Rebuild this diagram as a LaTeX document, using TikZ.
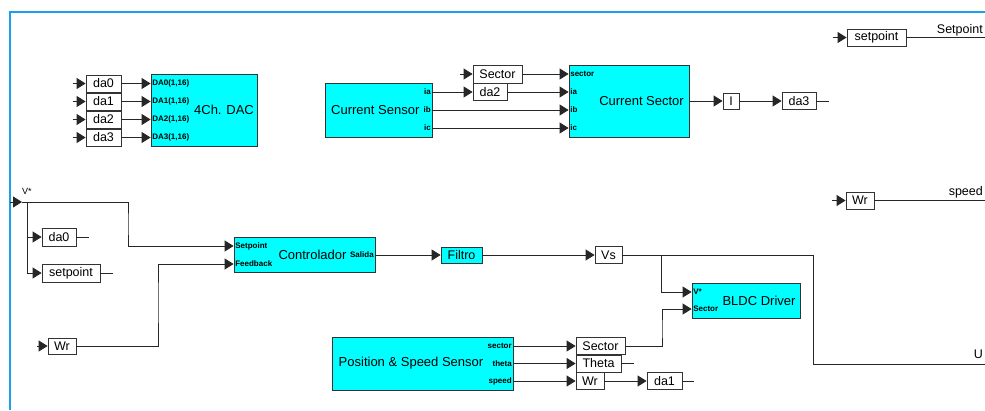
\documentclass[tikz,border=0pt]{standalone}
\usepackage{fontspec}
\setmainfont{Liberation Sans}
\usetikzlibrary{positioning, arrows.meta, calc}
\definecolor{frameblue}{RGB}{25,160,230}
\definecolor{blockcyan}{RGB}{0,255,255}

\begin{document}
\begin{tikzpicture}[x=1pt, y=-1pt,
	wire/.style={draw=black!85, line width=0.9pt},
	arr/.style={-{Triangle[length=9pt, width=11pt]}},
	tagbox/.style={draw=black!80, fill=white, line width=0.8pt, inner sep=0pt, minimum height=17pt, font=\fontsize{12.5}{13}\selectfont},
	block/.style={draw=black!80, fill=blockcyan, line width=0.8pt, inner sep=0pt},
	blocklab/.style={inner sep=0pt, font=\fontsize{13}{14}\selectfont},
	port/.style={inner sep=1.5pt, font=\fontsize{8}{8}\selectfont\bfseries},
	outlab/.style={inner sep=0pt, anchor=base east, font=\fontsize{12.5}{13}\selectfont}]
	\useasboundingbox (0,0) rectangle (985,410);
	% sheet frame
	\draw[frameblue, line width=2pt] (10,410) -- (10,12) -- (985,12);

	% 4 channel DAC
	\node[block, minimum width=106pt, minimum height=72pt] (dac) at (204,110) {};
	\node[blocklab] (daclab) at (224,110) {4Ch. DAC};
	\foreach \i/\y in {0/83.5, 1/101.5, 2/119.5, 3/137.5}{
		\node[tagbox, minimum width=35pt] (dac\i) at (103.5,\y) {da\i};
		\node[port, anchor=west] (dacp\i) at (dac.west |- dac\i) {DA\i(1,16)};
		\draw[wire, arr] ([xshift=-13pt]dac\i.west) -- (dac\i.west);
		\draw[wire, arr] (dac\i.east) -- (dac.west |- dac\i);
	}

	% current sensing
	\node[block, minimum width=107pt, minimum height=54pt] (csens) at (378.5,110) {};
	\node[blocklab, anchor=west] (cslab) at (331,110) {Current Sensor};
	\node[block, minimum width=120pt, minimum height=72pt] (csec) at (629,101) {};
	\node[blocklab, anchor=east] (csclab) at (684,101) {Current Sector};
	\foreach \lab/\y in {ia/92, ib/110, ic/128}{
		\node[port, anchor=east] (csp\lab) at (csens.east |- 0,\y) {\lab};
	}
	\foreach \lab/\y in {sector/74, ia/92, ib/110, ic/128}{
		\node[port, anchor=west] (ccp\lab) at (csec.west |- 0,\y) {\lab};
	}
	\node[tagbox, minimum width=49pt, minimum height=18pt] (secA) at (497.5,74) {Sector};
	\node[tagbox, minimum width=34pt] (da2A) at (490,92) {da2};
	\draw[wire, arr] ([xshift=-13pt]secA.west) -- (secA.west);
	\draw[wire, arr] (secA.east) -- (csec.west |- secA);
	\draw[wire, arr] (csens.east |- da2A) -- (da2A.west);
	\draw[wire, arr] (da2A.east) -- (csec.west |- da2A);
	\draw[wire, arr] (cspib.east) -- (csec.west |- cspib);
	\draw[wire, arr] (cspic.east) -- (csec.west |- cspic);
	\node[tagbox, minimum width=16pt, minimum height=16pt] (iTag) at (731,101) {I};
	\node[tagbox, minimum width=34pt] (da3A) at (799,101) {da3};
	\draw[wire, arr] (csec.east) -- (iTag.west);
	\draw[wire, arr] (iTag.east) -- (da3A.west);
	\draw[wire] (da3A.east) -- ++(13,0);

	% outputs on the right
	\coordinate (spEnd) at (985,37.5);
	\coordinate (spdEnd) at (985,200.5);
	\coordinate (uEnd) at (985,364);
	\node[tagbox, minimum width=59pt] (spR) at (876.5,37.5) {setpoint};
	\node[tagbox, minimum width=28pt] (wrR) at (860,200.5) {Wr};
	\draw[wire, arr] ([xshift=-14pt]spR.west) -- (spR.west);
	\draw[wire, arr] ([xshift=-14pt]wrR.west) -- (wrR.west);
	\draw[wire] (spR.east) -- (spEnd);
	\draw[wire] (wrR.east) -- (spdEnd);
	\node[outlab] (splab) at (983,33) {Setpoint};
	\node[outlab] (spdlab) at (983,195) {speed};
	\node[outlab] (ulab) at (983,358) {U};

	% speed reference V*
	\coordinate (vIn) at (10,202);
	\coordinate (vTip) at (22,202);
	\coordinate (vTap) at (27,202);
	\node[inner sep=0pt, anchor=base west, font=\fontsize{9}{9}\selectfont] (vlab) at (22,194) {V*};
	\node[tagbox, minimum width=34pt, minimum height=18pt] (da0L) at (59,237) {da0};
	\node[tagbox, minimum width=58pt, minimum height=18pt] (spL) at (71,273) {setpoint};
	\node[tagbox, minimum width=28pt, minimum height=16pt] (wrL) at (62,346) {Wr};
	\draw[wire, arr] (vIn) -- (vTip);
	\draw[wire, arr] (vTap) |- (spL.west);
	\draw[wire, arr] (vTap |- da0L) -- (da0L.west);
	\draw[wire] (da0L.east) -- ++(13,0);
	\draw[wire] (spL.east) -- ++(13,0);
	\draw[wire, arr] ([xshift=-11pt]wrL.west) -- (wrL.west);

	% controller and filter
	\node[block, minimum width=141pt, minimum height=35pt] (ctrl) at (304.5,255) {};
	\node[blocklab] (ctrllab) at (312.5,255) {Controlador};
	\node[port, anchor=west] (ctrlsp) at (ctrl.west |- 0,246) {Setpoint};
	\node[port, anchor=west] (ctrlfb) at (ctrl.west |- 0,264) {Feedback};
	\node[port, anchor=east] (ctrlout) at (ctrl.east |- 0,255) {Salida};
	\draw[wire, arr] (vTip) -| (128,224) |- (ctrlsp.west);
	\draw[wire, arr] (wrL.east) -| (158,300) |- (ctrlfb.west);
	\node[tagbox, fill=blockcyan, minimum width=41pt, minimum height=16pt] (filt) at (461.5,255) {Filtro};
	\node[tagbox, minimum width=27pt] (vs) at (608.5,255) {Vs};
	\draw[wire, arr] (ctrlout.east) -- (filt.west);
	\draw[wire, arr] (filt.east) -- (vs.west);

	% driver
	\node[block, minimum width=108pt, minimum height=35pt] (bldc) at (746,300.5) {};
	\node[blocklab] (bldclab) at (759,300.5) {BLDC Driver};
	\node[port, anchor=west] (bldcv) at (bldc.west |- 0,292) {V*};
	\node[port, anchor=west] (bldcs) at (bldc.west |- 0,309) {Sector};
	\draw[wire] (vs.east) -| (813,300) |- (uEnd);
	\draw[wire, arr] (vs.east -| 661,0) |- (bldcv.west);

	% position and speed sensor
	\node[block, minimum width=181pt, minimum height=53pt] (pss) at (422.5,363.5) {};
	\node[blocklab] (psslab) at (411,363.5) {Position \& Speed Sensor};
	\foreach \lab/\y in {sector/346, theta/363.5, speed/381}{
		\node[port, anchor=east] (pss\lab) at (pss.east |- 0,\y) {\lab};
	}
	\node[tagbox, minimum width=49pt] (secB) at (600.5,346) {Sector};
	\node[tagbox, minimum width=45pt] (thB) at (598.5,363.5) {Theta};
	\node[tagbox, minimum width=28pt] (wrB) at (590,381) {Wr};
	\node[tagbox, minimum width=35pt] (da1B) at (664.5,381) {da1};
	\draw[wire, arr] (psssector.east) -- (secB.west);
	\draw[wire, arr] (psstheta.east) -- (thB.west);
	\draw[wire, arr] (pssspeed.east) -- (wrB.west);
	\draw[wire, arr] (secB.east) -| (662,330) |- (bldcs.west);
	\draw[wire] (thB.east) -- ++(13,0);
	\draw[wire, arr] (wrB.east) -- (da1B.west);
	\draw[wire] (da1B.east) -- ++(12,0);
\end{tikzpicture}
\end{document}
